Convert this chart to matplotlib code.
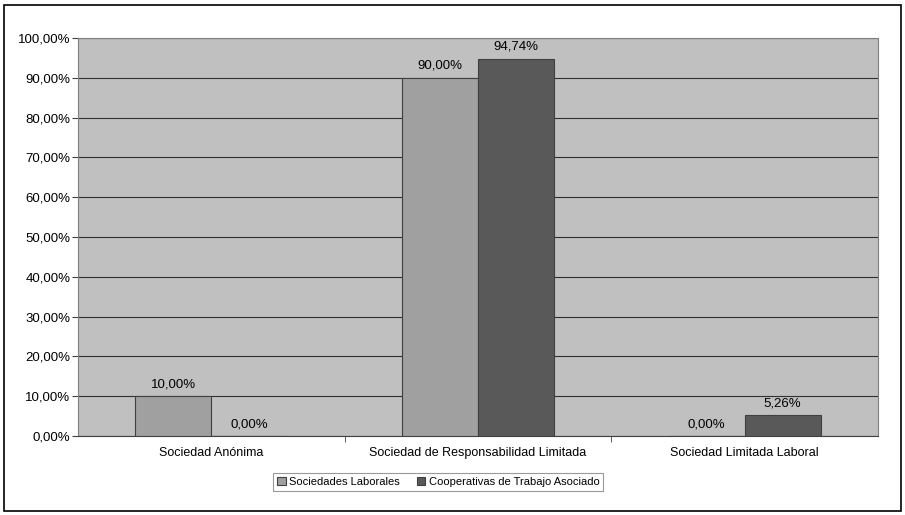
import matplotlib
matplotlib.use("Agg")
import matplotlib.pyplot as plt
import numpy as np
from matplotlib.patches import Rectangle
from matplotlib.ticker import FuncFormatter

plt.rcParams['font.family'] = ['Liberation Sans', 'DejaVu Sans']

categories = ["Sociedad Anónima", "Sociedad de Responsabilidad Limitada", "Sociedad Limitada Laboral"]
series_names = ["Sociedades Laborales", "Cooperativas de Trabajo Asociado"]
sociedades_laborales = [10.00, 90.00, 0.00]
cooperativas = [0.00, 94.74, 5.26]
colors = ["#a0a0a0", "#595959"]

fig = plt.figure(figsize=(9.05, 5.15), dpi=100)
ax = fig.add_axes([78/905, 1-436/515, 800/905, 398/515])
ax.set_facecolor("#c0c0c0")

x = np.arange(len(categories))
w = 0.285
vals = [sociedades_laborales, cooperativas]
fs = 9.5
for i, (v, c, n) in enumerate(zip(vals, colors, series_names)):
    pos = x + (i - 0.5) * w
    ax.bar(pos, v, width=w, color=c, edgecolor="#404040", linewidth=0.8, label=n, zorder=3)
    for xp, val in zip(pos, v):
        ax.text(xp, val + 1.5, f"{val:.2f}%".replace(".", ","), ha="center", va="bottom", fontsize=fs, zorder=4)

ax.set_xlim(-0.5, 2.5)
ax.set_ylim(0, 100)
ax.set_yticks(np.arange(0, 101, 10))
ax.yaxis.set_major_formatter(FuncFormatter(lambda v, p: f"{v:.2f}%".replace(".", ",")))
ax.set_xticks([0.5, 1.5], minor=True)
ax.set_xticks(x)
ax.set_xticklabels(categories)
ax.tick_params(axis="x", which="major", length=0, labelsize=9, pad=8)
ax.tick_params(axis="x", which="minor", length=4, color="#404040", direction="out")
ax.tick_params(axis="y", length=4, color="#404040", labelsize=fs, pad=1.5)
ax.yaxis.grid(True, color="#303030", linewidth=0.8, zorder=1)
ax.set_axisbelow(True)
for s in ["top", "right", "left"]:
    ax.spines[s].set_color("#808080")
ax.spines["bottom"].set_color("#404040")

leg = fig.legend(loc="center left", bbox_to_anchor=(273/905, 1-482/515), ncol=2, fontsize=8,
                 frameon=True, fancybox=False, edgecolor="#808080", handlelength=0.8,
                 handleheight=0.8, handletextpad=0.3, columnspacing=1.5, borderpad=0.35,
                 borderaxespad=0)
leg.get_frame().set_linewidth(0.8)

fig.patches.append(Rectangle((4/905, 4/515), 897/905, 506/515, transform=fig.transFigure,
                             fill=False, edgecolor="black", linewidth=1.2))

fig.savefig("out.png", dpi=100, facecolor="white")
